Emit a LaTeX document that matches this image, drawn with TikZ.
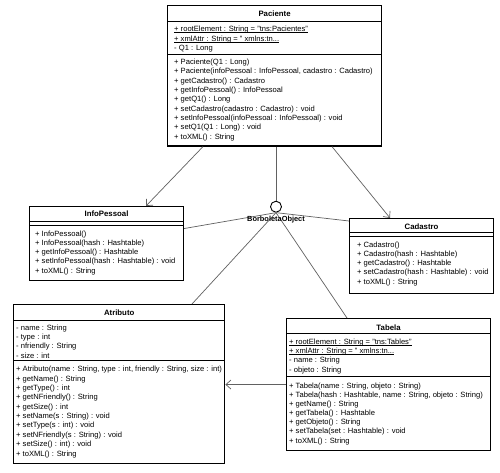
\documentclass[tikz,border=0pt]{standalone}
\usepackage{fontspec}
\setmainfont{Liberation Sans}
\usetikzlibrary{arrows.meta,calc}
\newcommand\ulx[1]{\setbox0=\hbox{#1}\rlap{\rule[-1.2pt]{\wd0}{0.4pt}}\box0}
\begin{document}
\begin{tikzpicture}[x=1pt,y=-1pt,
 cls/.style={draw=black,line width=1.1pt,fill=white,inner sep=0pt,anchor=north west},
 sepl/.style={line width=0.6pt},
 txt/.style={font=\fontsize{7.6}{9}\selectfont,inner sep=0pt,anchor=base west},
 ttl/.style={font=\fontsize{7.8}{9}\selectfont\bfseries,inner sep=0pt,anchor=base},
 conn/.style={draw=black!62,line width=0.7pt},
 nav/.style={conn,-{Straight Barb[length=5pt,width=9pt]}}
]
\fill[white] (0,0) rectangle (500,473);
\useasboundingbox (0,0) rectangle (500,473);

% ---------- Paciente ----------
\node[cls,minimum width=214pt,minimum height=140.5pt] (pac) at (167,5) {};
\node[ttl] (pac-t) at (pac.north |- 0,16.7) {Paciente};
\draw[sepl] (pac.west |- 0,21.7) -- (pac.east |- 0,21.7);
\draw[sepl] (pac.west |- 0,54) -- (pac.east |- 0,54);
\foreach \t [count=\i from 0] in {{\ulx{+ rootElement : String = "tns:Pacientes"}},{\ulx{+ xmlAttr : String = " xmlns:tn...}},{- Q1 : Long}}
  \node[txt] (pac-a\i) at ({174},{31.7+\i*9.37}) {\t};
\foreach \t [count=\i from 0] in {{+ Paciente(Q1 : Long)},{+ Paciente(infoPessoal : InfoPessoal, cadastro : Cadastro)},{+ getCadastro() : Cadastro},{+ getInfoPessoal() : InfoPessoal},{+ getQ1() : Long},{+ setCadastro(cadastro : Cadastro) : void},{+ setInfoPessoal(infoPessoal : InfoPessoal) : void},{+ setQ1(Q1 : Long) : void},{+ toXML() : String}}
  \node[txt] (pac-o\i) at ({174},{64.4+\i*9.37}) {\t};

% ---------- InfoPessoal ----------
\node[cls,minimum width=154pt,minimum height=74pt] (info) at (29,206) {};
\node[ttl] (info-t) at (info.north |- 0,216) {InfoPessoal};
\draw[sepl] (info.west |- 0,221.7) -- (info.east |- 0,221.7);
\draw[sepl] (info.west |- 0,225) -- (info.east |- 0,225);
\foreach \t [count=\i from 0] in {{+ InfoPessoal()},{+ InfoPessoal(hash : Hashtable)},{+ getInfoPessoal() : Hashtable},{+ setInfoPessoal(hash : Hashtable) : void},{+ toXML() : String}}
  \node[txt] (info-o\i) at ({35},{236+\i*9.3}) {\t};

% ---------- Cadastro ----------
\node[cls,minimum width=144pt,minimum height=75pt] (cad) at (349,218) {};
\node[ttl] (cad-t) at (cad.north |- 0,229.4) {Cadastro};
\draw[sepl] (cad.west |- 0,232.7) -- (cad.east |- 0,232.7);
\draw[sepl] (cad.west |- 0,236) -- (cad.east |- 0,236);
\foreach \t [count=\i from 0] in {{+ Cadastro()},{+ Cadastro(hash : Hashtable)},{+ getCadastro() : Hashtable},{+ setCadastro(hash : Hashtable) : void},{+ toXML() : String}}
  \node[txt] (cad-o\i) at ({357},{247+\i*9.3}) {\t};

% ---------- Atributo ----------
\node[cls,minimum width=211.3pt,minimum height=159.3pt] (atr) at (13,304) {};
\node[ttl] (atr-t) at (atr.north |- 0,315.4) {Atributo};
\draw[sepl] (atr.west |- 0,320) -- (atr.east |- 0,320);
\draw[sepl] (atr.west |- 0,360.7) -- (atr.east |- 0,360.7);
\foreach \t [count=\i from 0] in {{- name : String},{- type : int},{- nfriendly : String},{- size : int}}
  \node[txt] (atr-a\i) at ({16},{330+\i*9.35}) {\t};
\foreach \t [count=\i from 0] in {{+ Atributo(name : String, type : int, friendly : String, size : int)},{+ getName() : String},{+ getType() : int},{+ getNFriendly() : String},{+ getSize() : int},{+ setName(s : String) : void},{+ setType(s : int) : void},{+ setNFriendly(s : String) : void},{+ setSize() : int) : void},{+ toXML() : String}}
  \node[txt] (atr-o\i) at ({16},{371.7+\i*9.37}) {\t};

% ---------- Tabela ----------
\node[cls,minimum width=204pt,minimum height=132pt] (tab) at (286,318) {};
\node[ttl] (tab-t) at (tab.north |- 0,330) {Tabela};
\draw[sepl] (tab.west |- 0,333.3) -- (tab.east |- 0,333.3);
\draw[sepl] (tab.west |- 0,376.7) -- (tab.east |- 0,376.7);
\foreach \t [count=\i from 0] in {{\ulx{+ rootElement : String = "tns:Tables"}},{\ulx{+ xmlAttr : String = " xmlns:tn...}},{- name : String},{- objeto : String}}
  \node[txt] (tab-a\i) at ({289},{344.4+\i*9.2}) {\t};
\foreach \t [count=\i from 0] in {{+ Tabela(name : String, objeto : String)},{+ Tabela(hash : Hashtable, name : String, objeto : String)},{+ getName() : String},{+ getTabela() : Hashtable},{+ getObjeto() : String},{+ setTabela(set : Hashtable) : void},{+ toXML() : String}}
  \node[txt] (tab-o\i) at ({289},{388.4+\i*9.1}) {\t};

% ---------- Interface lollipop ----------
\node[draw,circle,line width=0.9pt,minimum size=11pt,inner sep=0pt,fill=white] (bo) at (276,206.7) {};

% ---------- connectors ----------
\draw[nav] ([xshift=36pt]pac.south west) -- ([xshift=117pt]info.north west);
\draw[nav] ([xshift=165pt]pac.south west) -- ([xshift=41pt]cad.north west);
\draw[conn] (bo |- pac.south) -- (bo.north);
\draw[conn] (bo.south) -- ([yshift=15pt]info.east);
\draw[conn] (bo.south) -- ([yshift=-3pt]cad.north west);
\draw[conn] (bo.south) -- ([xshift=179pt]atr.north west);
\draw[conn] (bo.south) -- ([xshift=61pt]tab.north west);
\draw[nav] (tab.west) -- (tab.west -| atr.east);

\node[font=\fontsize{7.4}{9}\selectfont\bfseries,inner sep=0pt] (bol) at (276,220) {BorboletaObject};
\end{tikzpicture}
\end{document}
